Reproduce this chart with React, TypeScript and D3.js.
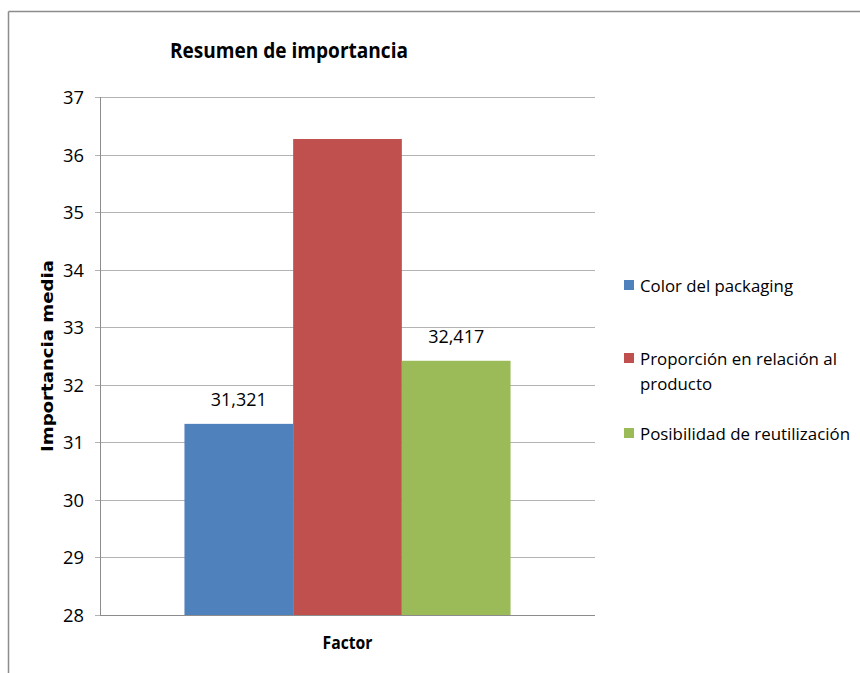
import React from "react";
import * as d3 from "d3";

const categories = ["Factor"];
const seriesNames = [
  "Color del packaging",
  "Proporción en relación al producto",
  "Posibilidad de reutilización",
];
const seriesValues = [31.321, 36.27, 32.417];
const valueLabels = ["31,321", "", "32,417"];
const seriesColors = ["#4f81bd", "#c0504d", "#9bbb59"];
const yTicks = [28, 29, 30, 31, 32, 33, 34, 35, 36, 37];
const legendLines = [
  ["Color del packaging"],
  ["Proporción en relación al", "producto"],
  ["Posibilidad de reutilización"],
];
const legendWidths = [[153], [197, 72], [210]];

const W = 860;
const H = 673;
const plot = { left: 100, right: 595, top: 97, bottom: 615 };
const font = "'Liberation Sans Narrow', 'Open Sans', sans-serif";

export default function App() {
  const y = d3.scaleLinear().domain([28, 37]).range([plot.bottom, plot.top]);
  const x0 = d3
    .scaleBand()
    .domain(categories)
    .range([plot.left, plot.right])
    .paddingInner(0)
    .paddingOuter(0.259);
  const x1 = d3
    .scaleBand()
    .domain(seriesNames)
    .range([0, x0.bandwidth()]);

  const legendY = [286, 359, 434];

  return (
    <svg
      width={W}
      height={H}
      style={{ position: "absolute", left: 0, top: 0, background: "#fff" }}
    >
      {/* frame */}
      <line x1={8.5} y1={11.5} x2={W} y2={11.5} stroke="#8c8c8c" strokeWidth={1.5} />
      <line x1={8.5} y1={11.5} x2={8.5} y2={H} stroke="#8c8c8c" strokeWidth={1.5} />

      <text
        x={170}
        y={58}
        fontFamily={font}
        fontWeight="bold"
        fontSize={22}
        textLength={238}
        lengthAdjust="spacingAndGlyphs"
        fill="#000"
      >
        Resumen de importancia
      </text>

      {/* gridlines and ticks */}
      {yTicks.map((t) => (
        <g key={t}>
          <line
            x1={plot.left - 5}
            x2={plot.right}
            y1={Math.round(y(t)) + 0.5}
            y2={Math.round(y(t)) + 0.5}
            stroke="#b3b3b3"
            strokeWidth={1}
          />
          <text
            x={84}
            y={y(t) + 7}
            textAnchor="end"
            fontFamily={font}
            fontSize={19}
            textLength={21}
            lengthAdjust="spacingAndGlyphs"
            fill="#000"
          >
            {t}
          </text>
        </g>
      ))}
      <line
        x1={plot.left + 0.5}
        x2={plot.left + 0.5}
        y1={plot.top}
        y2={plot.bottom}
        stroke="#8c8c8c"
      />

      {/* bars */}
      {categories.map((c) => (
        <g key={c} transform={`translate(${x0(c)},0)`}>
          {seriesNames.map((s, i) => (
            <g key={s}>
              <rect
                x={x1(s)}
                y={y(seriesValues[i])}
                width={x1.bandwidth()}
                height={y(28) - y(seriesValues[i])}
                fill={seriesColors[i]}
              />
              {valueLabels[i] && (
                <text
                  x={(x1(s) || 0) + x1.bandwidth() / 2}
                  y={y(seriesValues[i]) - 18}
                  textAnchor="middle"
                  fontFamily={font}
                  fontSize={19}
                  textLength={56}
                  lengthAdjust="spacingAndGlyphs"
                  fill="#000"
                >
                  {valueLabels[i]}
                </text>
              )}
            </g>
          ))}
        </g>
      ))}
      <line
        x1={plot.left}
        x2={plot.right}
        y1={plot.bottom + 0.5}
        y2={plot.bottom + 0.5}
        stroke="#8c8c8c"
      />

      {/* axis titles */}
      <text
        x={(plot.left + plot.right) / 2}
        y={649}
        textAnchor="middle"
        fontFamily={font}
        fontWeight="bold"
        fontSize={18}
        textLength={50}
        lengthAdjust="spacingAndGlyphs"
        fill="#000"
      >
        Factor
      </text>
      <text
        transform="translate(53,356) rotate(-90)"
        textAnchor="middle"
        fontFamily="'DejaVu Sans', sans-serif"
        fontWeight="bold"
        fontSize={15}
        textLength={192}
        lengthAdjust="spacingAndGlyphs"
        fill="#000"
      >
        Importancia media
      </text>

      {/* legend */}
      {legendLines.map((lines, i) => (
        <g key={i}>
          <rect x={624} y={legendY[i] - 6} width={10} height={10} fill={seriesColors[i]} />
          {lines.map((ln, j) => (
            <text
              key={j}
              x={640}
              y={legendY[i] + 6 + j * 25}
              fontFamily={font}
              fontSize={17}
              textLength={legendWidths[i][j]}
              lengthAdjust="spacingAndGlyphs"
              fill="#000"
            >
              {ln}
            </text>
          ))}
        </g>
      ))}
    </svg>
  );
}
